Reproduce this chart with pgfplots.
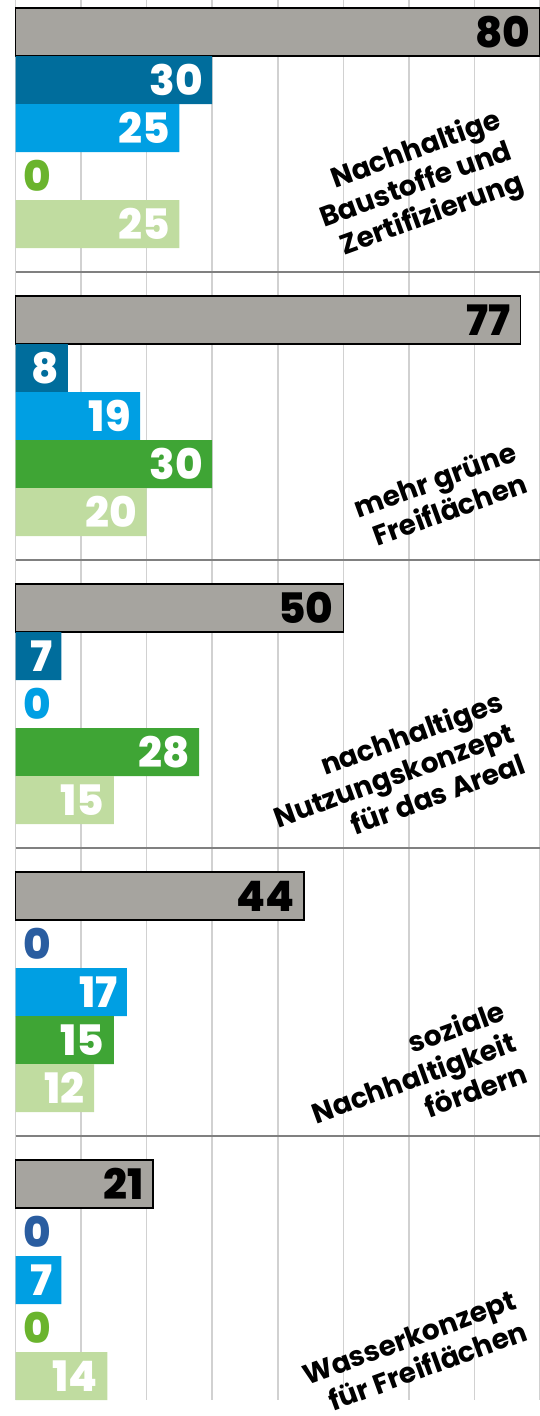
\documentclass[border=0pt]{standalone}
\usepackage{fontspec}
\setmainfont{Poppins}
\IfFontExistsTF{Poppins ExtraBold}{\newfontfamily\numfont{Poppins ExtraBold}}{\newcommand\numfont{\bfseries}}
\usepackage{pgfplots}
\pgfplotsset{compat=1.18}
\definecolor{cgray}{HTML}{A6A49F}
\definecolor{cdblue}{HTML}{006D9C}
\definecolor{clblue}{HTML}{009FE3}
\definecolor{cgreen}{HTML}{3FA535}
\definecolor{clgreen}{HTML}{C0DCA0}
\definecolor{zdblue}{HTML}{2A5DA0}
\definecolor{zgreen}{HTML}{6AB42D}
\pgfplotsset{
  mybar/.style={xbar, bar width=48, bar shift=0pt, draw=none},
  inlbl/.style={nodes near coords, every node near coord/.append style={anchor=east, xshift=-4.5bp, text=#1}},
  zerolbl/.style={nodes near coords, every node near coord/.append style={anchor=west, xshift=3.75bp, text=#1}},
}
\tikzset{lbl/.style={rotate=20, align=right, inner sep=0pt, anchor=south east, font=\bfseries\fontsize{14bp}{16.5bp}\selectfont}}
\begin{document}
\begin{tikzpicture}
\useasboundingbox (-7.75bp,-8bp) rectangle (262.25bp,700bp);
\begin{axis}[
  at={(0,0)}, anchor=south west,
  scale only axis, width=262.25bp, height=700bp,
  xmin=0, xmax=80, ymin=0, ymax=1400, y dir=reverse,
  axis line style={draw=none}, tick style={draw=none},
  xtick={0,10,...,80}, xticklabels={}, ytick={272,560,848,1136}, yticklabels={},
  xmajorgrids, ymajorgrids,
  x grid style={color=black!18, line width=0.75bp},
  y grid style={color=black!50, line width=0.9bp},
  clip=false,
  point meta=x,
  /pgf/number format/assume math mode=true,
  nodes near coords style={font=\numfont\fontsize{21bp}{21bp}\selectfont, inner sep=0pt},
]
% total (gray)
\addplot[mybar, fill=cgray, draw=black, line width=0.8bp, inlbl=black]
  coordinates {(80,32) (77,320) (50,608) (44,896) (21,1184)};
% dark blue
\addplot[mybar, fill=cdblue, inlbl=white]
  coordinates {(30,80) (8,368) (7,656)};
\addplot[mybar, fill=none, zerolbl=zdblue]
  coordinates {(0,944) (0,1232)};
% light blue
\addplot[mybar, fill=clblue, inlbl=white]
  coordinates {(25,128) (19,416) (17,992) (7,1280)};
\addplot[mybar, fill=none, zerolbl=clblue]
  coordinates {(0,704)};
% green
\addplot[mybar, fill=cgreen, inlbl=white]
  coordinates {(30,464) (28,752) (15,1040)};
\addplot[mybar, fill=none, zerolbl=zgreen]
  coordinates {(0,176) (0,1328)};
% light green
\addplot[mybar, fill=clgreen, inlbl=white]
  coordinates {(25,224) (20,512) (15,800) (12,1088) (14,1376)};

\node[lbl] at (axis cs:78.2,197) {Nachhaltige\\Baustoffe und\\Zertifizierung};
\node[lbl] at (axis cs:78.5,492) {mehr grüne\\Freiflächen};
\node[lbl] at (axis cs:78.2,773) {nachhaltiges\\Nutzungskonzept\\für das Areal};
\node[lbl] at (axis cs:78.5,1082) {soziale\\Nachhaltigkeit\\fördern};
\node[lbl] at (axis cs:78.5,1340) {Wasserkonzept\\für Freiflächen};
\end{axis}
\end{tikzpicture}
\end{document}
